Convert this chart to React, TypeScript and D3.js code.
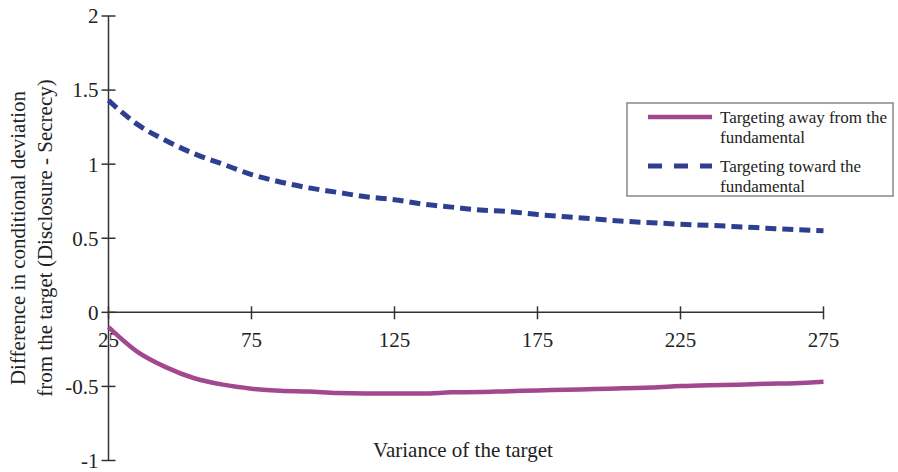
import React from "react";
import * as d3 from "d3";

const variance = [25, 35, 45, 55, 65, 75, 85, 95, 105, 115, 125, 135, 145, 155, 165, 175, 185, 195, 205, 215, 225, 235, 245, 255, 265, 275];
const awaySeries = [-0.1, -0.265, -0.37, -0.445, -0.488, -0.515, -0.53, -0.535, -0.545, -0.548, -0.548, -0.548, -0.54, -0.538, -0.532, -0.528, -0.522, -0.518, -0.512, -0.508, -0.498, -0.492, -0.488, -0.482, -0.478, -0.468];
const towardSeries = [1.43, 1.27, 1.16, 1.07, 1.0, 0.93, 0.88, 0.84, 0.81, 0.78, 0.76, 0.73, 0.71, 0.69, 0.68, 0.66, 0.645, 0.63, 0.615, 0.605, 0.595, 0.587, 0.578, 0.568, 0.558, 0.55];
const xTicks = [25, 75, 125, 175, 225, 275];
const yTicks = [2, 1.5, 1, 0.5, 0, -0.5, -1];
const yLabelLines = ["Difference in conditional deviation", "from the target (Disclosure - Secrecy)"];
const xLabel = "Variance of the target";
const legendAway = ["Targeting away from the", "fundamental"];
const legendToward = ["Targeting toward the", "fundamental"];

const FONT = "'Liberation Serif', 'DejaVu Serif', serif";
const MAGENTA = "#a2488f";
const BLUE = "#2e3f91";
const AXIS = "#333";

export default function App() {
  const x = d3.scaleLinear().domain([25, 275]).range([108.5, 823.5]);
  const y = d3.scaleLinear().domain([-1, 2]).range([460.5, 16]);

  const line = (vals: number[]) =>
    d3.line<number>()
      .x((_, i) => x(variance[i]))
      .y((d) => y(d))
      .curve(d3.curveMonotoneX)(vals) as string;

  return (
    <svg width={898} height={472} style={{ position: "absolute", left: 0, top: 0, background: "#fff" }} fontFamily={FONT}>
      {/* y axis */}
      <line x1={x(25)} x2={x(25)} y1={y(2)} y2={y(-1)} stroke={AXIS} strokeWidth={1.5} />
      {yTicks.map((t) => (
        <g key={"y" + t}>
          <line x1={x(25) - 7} x2={x(25) + 7} y1={y(t)} y2={y(t)} stroke={AXIS} strokeWidth={1.5} />
          <text x={x(25) - 10} y={y(t)} dy="0.35em" textAnchor="end" fontSize={21} fill="#222">
            {String(t)}
          </text>
        </g>
      ))}
      {/* x axis */}
      <line x1={x(25)} x2={x(275)} y1={y(0)} y2={y(0)} stroke={AXIS} strokeWidth={1.5} />
      {xTicks.map((t) => (
        <g key={"x" + t}>
          <line x1={x(t)} x2={x(t)} y1={y(0) - 6} y2={y(0) + 7} stroke={AXIS} strokeWidth={1.5} />
          <text x={x(t)} y={y(0) + 35} textAnchor="middle" fontSize={21} fill="#222">
            {String(t)}
          </text>
        </g>
      ))}
      {/* y label */}
      <g transform="translate(0,238) rotate(-90)">
        {yLabelLines.map((l, i) => (
          <text key={l} x={0} y={25 + i * 27} textAnchor="middle" fontSize={21} fill="#222">
            {l}
          </text>
        ))}
      </g>
      {/* x label */}
      <text x={463} y={457} textAnchor="middle" fontSize={21} fill="#222">
        {xLabel}
      </text>
      {/* series */}
      <path d={line(awaySeries)} fill="none" stroke={MAGENTA} strokeWidth={4.5} />
      <path d={line(towardSeries)} fill="none" stroke={BLUE} strokeWidth={5} strokeDasharray="11,6" />
      {/* legend */}
      <rect x={627} y={103} width={266} height={93} fill="#fff" stroke="#888" strokeWidth={1.5} />
      <line x1={648} x2={712} y1={117} y2={117} stroke={MAGENTA} strokeWidth={4.5} />
      {legendAway.map((l, i) => (
        <text key={"a" + i} x={720} y={123 + i * 20} fontSize={17} fill="#222">
          {l}
        </text>
      ))}
      <line x1={648} x2={712} y1={166} y2={166} stroke={BLUE} strokeWidth={5} strokeDasharray="14,12" />
      {legendToward.map((l, i) => (
        <text key={"t" + i} x={720} y={172 + i * 20} fontSize={17} fill="#222">
          {l}
        </text>
      ))}
    </svg>
  );
}
